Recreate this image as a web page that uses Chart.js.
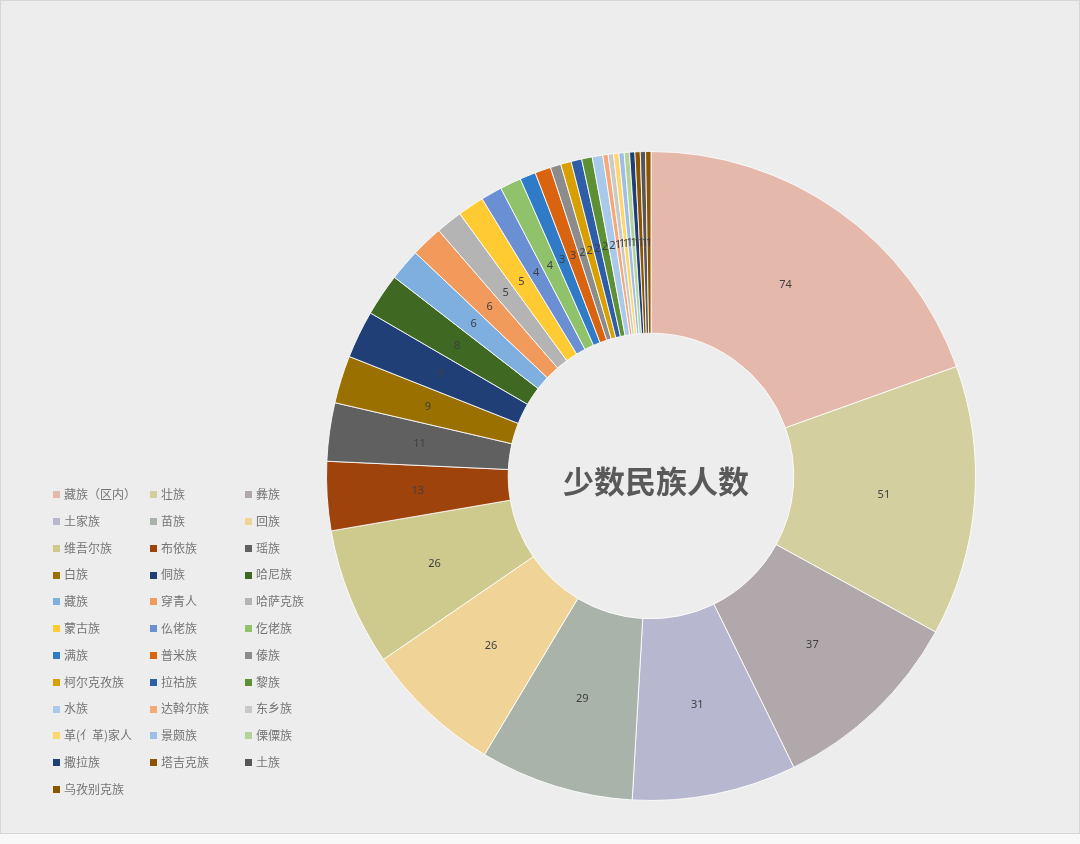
<!DOCTYPE html>
<html><head><meta charset="utf-8">
<script src="https://cdn.jsdelivr.net/npm/chart.js@4.4.1/dist/chart.umd.min.js"></script>
<style>
html,body{margin:0;padding:0;background:#f8f8f8;}
#frame{position:absolute;left:0;top:0;width:1078px;height:832px;border:1px solid #d6d6d6;background:#ededed;}
#wrap{position:absolute;left:0;top:0;width:1078px;height:832px;}
#legend{position:absolute;left:52px;top:485px;width:300px;font-family:"Noto Sans CJK SC","Noto Sans",sans-serif;font-size:12px;color:#757575;}
.item{position:absolute;height:16px;line-height:16px;white-space:nowrap;}
.sw{display:inline-block;width:7px;height:7px;margin-right:4px;vertical-align:middle;position:relative;top:-1px;}
</style></head>
<body>
<div id="frame"><div id="wrap"><canvas id="c"></canvas></div><div id="legend"></div></div>
<script>
const categories = ["藏族（区内）","壮族","彝族","土家族","苗族","回族","维吾尔族","布依族","瑶族","白族","侗族","哈尼族","藏族","穿青人","哈萨克族","蒙古族","仫佬族","仡佬族","满族","普米族","傣族","柯尔克孜族","拉祜族","黎族","水族","达斡尔族","东乡族","革(亻革)家人","景颇族","傈僳族","撒拉族","塔吉克族","土族","乌孜别克族"];
const values = [74,51,37,31,29,26,26,13,11,9,9,8,6,6,5,5,4,4,3,3,2,2,2,2,2,1,1,1,1,1,1,1,1,1];
const colors = ["#E5B8AC","#D4CF9F","#B1A8AB","#B8B7D0","#A9B3A9","#F0D497","#CEC98D","#9E430C","#606060","#9A7100","#1F3F76","#3F6823","#7FAFDF","#F29A5B","#B4B4B4","#FFCA32","#6A8FD3","#90C26B","#2F7BC7","#D9630F","#8C8C8C","#D7A000","#2E5EA7","#5D8F35","#A9C9EB","#F5A979","#C9C9C9","#FFD570","#9EBEE5","#B3D39A","#1F3F76","#8C5300","#565656","#8C5300"];
const chartTitle = "少数民族人数";

const labelPlugin = {
  id:'sliceLabels',
  afterDatasetsDraw(chart){
    const ctx = chart.ctx;
    const meta = chart.getDatasetMeta(0);
    ctx.save();
    ctx.font = '11px "Noto Sans","DejaVu Sans",sans-serif';
    ctx.fillStyle = '#404040';
    ctx.textAlign = 'center';
    ctx.textBaseline = 'middle';
    meta.data.forEach((arc,i)=>{
      const p = arc.getProps(['x','y','startAngle','endAngle','innerRadius','outerRadius'],true);
      const a = (p.startAngle+p.endAngle)/2;
      const r = (p.innerRadius+p.outerRadius)/2;
      ctx.fillText(String(chart.data.datasets[0].data[i]), p.x+Math.cos(a)*r, p.y+Math.sin(a)*r);
    });
    ctx.font = 'bold 31px "Noto Sans CJK SC",sans-serif';
    ctx.fillStyle = '#595959';
    const m = meta.data[0];
    ctx.fillText(chartTitle, m.x+5, m.y+5);
    ctx.restore();
  }
};

new Chart(document.getElementById('c'),{
  type:'doughnut',
  data:{labels:categories,datasets:[{data:values,backgroundColor:colors,borderColor:'rgba(255,255,255,0.85)',borderWidth:1}]},
  options:{
    responsive:true,maintainAspectRatio:false,animation:false,
    cutout:'44%',
    layout:{padding:{left:325,right:103,top:150,bottom:32}},
    plugins:{legend:{display:false},tooltip:{enabled:false}}
  },
  plugins:[labelPlugin]
});

const lg = document.getElementById('legend');
const colX=[0,97,192], rowH=26.8;
categories.forEach((name,i)=>{
  const d=document.createElement('div');
  d.className='item';
  d.style.left=colX[i%3]+'px';
  d.style.top=(Math.floor(i/3)*rowH)+'px';
  d.innerHTML='<span class="sw" style="background:'+colors[i]+'"></span>'+name;
  lg.appendChild(d);
});
</script>
</body></html>
